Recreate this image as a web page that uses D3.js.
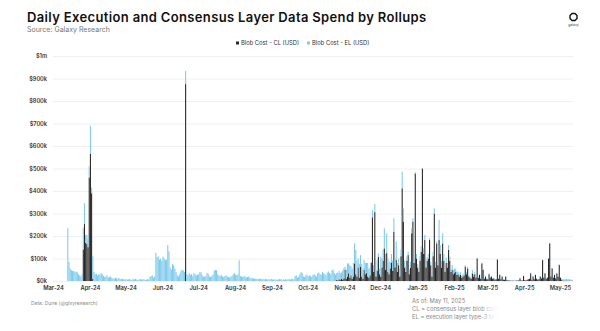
<!DOCTYPE html>
<html>
<head>
<meta charset="utf-8">
<script src="https://cdn.jsdelivr.net/npm/d3@7"></script>
<style>
  html, body { margin: 0; padding: 0; background: #fff; }
  svg { display: block; font-family: Inter, "Noto Sans", sans-serif; }
</style>
</head>
<body>
<svg id="chart" width="600" height="331"></svg>
<script>
// ---- data: daily blob spend in $k, one row per month ----
const months   = ["2024-03", "2024-04", "2024-05", "2024-06", "2024-07", "2024-08", "2024-09", "2024-10",
                  "2024-11", "2024-12", "2025-01", "2025-02", "2025-03", "2025-04", "2025-05"];
const firstDay = [13, 1, 1, 1, 1, 1, 1, 1, 1, 1, 1, 1, 1, 1, 1];

// consensus layer (blob gas)
const clCost = [
  [0, 0, 0, 0, 0, 0, 0, 0, 0, 0, 0, 0, 0, 140, 253, 170, 165, 150, 460],
  [565, 390, 10, 0, 0, 0, 0, 0, 0, 0, 0, 0, 0, 0, 0, 0, 0, 0, 0, 0, 0, 0, 0, 0, 0, 0, 0, 0, 0, 0],
  [0, 0, 0, 0, 0, 0, 0, 0, 0, 0, 0, 0, 0, 0, 0, 0, 0, 0, 0, 0, 0, 0, 0, 0, 0, 0, 0, 0, 0, 0, 0],
  [0, 0, 0, 0, 0, 0, 0, 0, 0, 0, 0, 0, 0, 0, 0, 0, 0, 0, 0, 875, 0, 0, 0, 0, 0, 0, 0, 0, 0, 0],
  [0, 0, 0, 0, 0, 0, 0, 0, 0, 0, 0, 0, 0, 0, 0, 0, 0, 0, 0, 0, 0, 0, 0, 0, 0, 0, 0, 0, 0, 0, 0],
  [0, 0, 0, 0, 0, 0, 0, 0, 0, 0, 0, 0, 0, 0, 0, 0, 0, 0, 0, 0, 0, 0, 0, 0, 0, 0, 0, 0, 0, 0, 0],
  [0, 0, 0, 0, 0, 0, 0, 0, 0, 0, 0, 0, 0, 0, 0, 0, 0, 0, 0, 0, 0, 0, 0, 0, 0, 0, 0, 0, 0, 0],
  [0, 0, 0, 0, 0, 0, 0, 0, 0, 0, 0, 0, 0, 0, 0, 0, 0, 0, 0, 0, 0, 0, 0, 0, 5, 3, 8, 4, 10, 6, 12],
  [50, 10, 20, 34, 15, 25, 10, 20, 78, 30, 20, 60, 15, 64, 20, 10, 49, 30, 35, 20, 15, 25, 80, 283, 40, 306, 20, 45, 108, 30],
  [20, 60, 90, 145, 50, 124, 40, 30, 56, 80, 45, 219, 60, 93, 40, 70, 20, 110, 412, 264, 60, 40, 90, 115, 30, 60, 212, 264, 80, 478, 100],
  [60, 41, 90, 130, 500, 120, 182, 60, 90, 100, 182, 70, 20, 110, 300, 60, 167, 70, 182, 120, 60, 167, 90, 41, 80, 60, 138, 90, 40, 49, 30],
  [35, 40, 27, 30, 20, 27, 15, 20, 25, 64, 30, 56, 20, 15, 10, 34, 20, 30, 15, 100, 15, 27, 10, 78, 49, 10, 20, 8],
  [8, 30, 15, 20, 10, 12, 6, 8, 96, 10, 27, 8, 20, 6, 5, 20, 4, 3, 2, 2, 1, 2, 1, 1, 2, 2, 3, 12, 3, 2, 22],
  [4, 3, 5, 8, 10, 34, 6, 20, 8, 27, 10, 6, 8, 20, 12, 93, 15, 34, 10, 15, 100, 167, 20, 56, 15, 27, 12, 34, 20, 71],
  [15, 4, 2, 2, 1, 2, 1, 2, 1, 1, 1]
];

// execution layer (type-3 tx gas)
const elCost = [
  [235, 85, 55, 48, 45, 45, 40, 42, 38, 30, 25, 20, 30, 95, 92, 35, 40, 40, 50],
  [125, 25, 100, 40, 30, 32, 25, 30, 28, 35, 30, 22, 18, 20, 25, 15, 18, 20, 14, 12, 10, 15, 12, 10, 14, 9, 8, 10, 7, 8],
  [8, 6, 7, 9, 5, 6, 8, 7, 10, 6, 5, 7, 9, 6, 8, 7, 5, 6, 8, 7, 18, 22, 25, 15, 20, 125, 105, 110, 95, 100, 90],
  [108, 100, 93, 95, 160, 132, 60, 50, 75, 70, 55, 40, 25, 20, 30, 45, 50, 48, 40, 58, 30, 25, 35, 28, 30, 22, 35, 30, 25, 28],
  [30, 40, 38, 25, 20, 18, 22, 35, 32, 20, 18, 22, 28, 45, 50, 48, 30, 25, 22, 28, 20, 18, 22, 25, 20, 18, 15, 20, 22, 30, 35],
  [28, 25, 30, 92, 22, 20, 18, 22, 20, 15, 18, 20, 15, 12, 14, 10, 12, 9, 10, 8, 11, 9, 8, 10, 7, 9, 8, 6, 8, 7, 9],
  [7, 6, 8, 5, 7, 6, 9, 8, 6, 7, 5, 8, 6, 7, 9, 6, 8, 10, 7, 22, 25, 15, 18, 30, 40, 35, 20, 18, 25, 28],
  [20, 25, 22, 18, 27, 30, 25, 20, 35, 38, 30, 28, 40, 35, 30, 25, 38, 42, 36, 30, 48, 50, 35, 28, 30, 34, 36, 30, 28, 40, 45],
  [14, 40, 58, 44, 55, 40, 45, 60, 89, 108, 70, 40, 60, 51, 55, 45, 44, 50, 45, 60, 40, 35, 5, 32, 30, 36, 30, 48, 15, 25],
  [88, 40, 50, 89, 70, 88, 60, 55, 30, 40, 45, 60, 45, 82, 40, 30, 35, 30, 74, 59, 30, 25, 20, 15, 20, 25, 22, 15, 20, 5, 20],
  [15, 10, 20, 25, 3, 25, 23, 20, 15, 20, 8, 15, 10, 20, 23, 25, 10, 20, 89, 40, 30, 45, 30, 10, 25, 20, 22, 20, 15, 22, 20],
  [20, 15, 14, 12, 10, 12, 8, 10, 8, 6, 10, 8, 6, 5, 5, 15, 10, 12, 8, 3, 5, 5, 4, 3, 5, 3, 4, 3],
  [3, 4, 3, 3, 2, 2, 2, 2, 2, 2, 2, 2, 2, 2, 2, 2, 2, 1, 1, 1, 1, 1, 1, 1, 1, 1, 1, 1, 1, 1, 2],
  [1, 1, 1, 1, 2, 3, 2, 2, 2, 2, 2, 1, 1, 2, 2, 2, 2, 2, 2, 2, 2, 3, 2, 2, 2, 2, 2, 2, 2, 3],
  [3, 6, 7, 6, 7, 8, 6, 7, 6, 5, 4]
];

const yTicks  = [0, 100, 200, 300, 400, 500, 600, 700, 800, 900, 1000];
const seriesNames = ["Blob Cost - CL (USD)", "Blob Cost - EL (USD)"];
const colors  = ["#262626", "#7fcaec"];

// ---- flatten to one row per day ----
const days = [];
months.forEach((m, mi) => {
  const [yr, mo] = m.split("-").map(Number);
  clCost[mi].forEach((cl, j) => {
    days.push({
      date: new Date(Date.UTC(yr, mo - 1, firstDay[mi] + j)),
      cl: cl,
      el: elCost[mi][j]
    });
  });
});

const svg = d3.select("#chart");
const plot = { left: 53, right: 573, top: 56, bottom: 281 };

const x = d3.scaleUtc()
  .domain([new Date(Date.UTC(2024, 2, 1)), new Date(Date.UTC(2025, 4, 12))])
  .range([plot.left, plot.right]);

const y = d3.scaleLinear().domain([0, 1000]).range([plot.bottom, plot.top]);

// ---- header ----
svg.append("text")
  .attr("x", 27).attr("y", 21.5)
  .style("font-size", "13px").style("font-weight", 600)
  .style("letter-spacing", "0.35px")
  .attr("fill", "#111")
  .text("Daily Execution and Consensus Layer Data Spend by Rollups");

svg.append("text")
  .attr("x", 27).attr("y", 32)
  .style("font-size", "7px")
  .attr("fill", "#777")
  .text("Source: Galaxy Research");

// logo mark
const logo = svg.append("g").attr("transform", "translate(573.5,17)");
logo.append("path")
  .attr("d", d3.range(8).map((i, k) => {
    const a = Math.PI / 8 + i * Math.PI / 4;
    return (k ? "L" : "M") + (3.8 * Math.cos(a)).toFixed(2) + "," + (3.8 * Math.sin(a)).toFixed(2);
  }).join("") + "Z")
  .attr("fill", "none").attr("stroke", "#111").attr("stroke-width", 1.4);
logo.append("text")
  .attr("y", 9).attr("text-anchor", "middle")
  .style("font-size", "3.4px").attr("fill", "#444")
  .text("galaxy");

// ---- legend ----
const legend = svg.append("g").attr("transform", "translate(236,45)");
let lx = 0;
seriesNames.forEach((name, i) => {
  const g = legend.append("g").attr("transform", `translate(${lx},0)`);
  g.append("rect").attr("x", 0).attr("y", -3.5).attr("width", 3).attr("height", 3).attr("fill", colors[i]);
  const t = g.append("text").attr("x", 5).attr("y", 0)
    .style("font-size", "5.8px").attr("fill", "#333").text(name);
  lx += 5 + t.node().getComputedTextLength() + 8;
});

// ---- axes ----
const yAxis = svg.append("g")
  .attr("transform", `translate(${plot.left},0)`)
  .call(d3.axisLeft(y)
    .tickValues(yTicks)
    .tickSize(-(plot.right - plot.left))
    .tickPadding(6)
    .tickFormat(d => d === 1000 ? "$1m" : `$${d}k`));
yAxis.select(".domain").remove();
yAxis.selectAll(".tick line").attr("stroke", "#ececec").attr("stroke-width", 0.8);
yAxis.selectAll(".tick text")
  .style("font-family", "Inter, sans-serif").style("font-size", "5.6px")
  .style("font-weight", 600).attr("fill", "#333");

const xAxis = svg.append("g")
  .attr("transform", `translate(0,${plot.bottom})`)
  .call(d3.axisBottom(x)
    .ticks(d3.utcMonth.every(1))
    .tickSize(0)
    .tickPadding(5)
    .tickFormat(d3.utcFormat("%b-%y")));
xAxis.select(".domain").remove();
xAxis.selectAll(".tick text")
  .style("font-family", "Inter, sans-serif").style("font-size", "5.8px")
  .style("font-weight", 600).attr("fill", "#333");

// ---- stacked daily bars: CL at the base, EL on top ----
const stack = d3.stack().keys(["cl", "el"]);
const layers = stack(days);
const barW = d => (x(d3.utcDay.offset(d.data.date, 1)) - x(d.data.date)) * 0.9;

svg.append("g").selectAll("g")
  .data(layers)
  .join("g")
    .attr("fill", (d, i) => colors[i])
  .selectAll("rect")
  .data(d => d)
  .join("rect")
    .attr("x", d => x(d.data.date))
    .attr("width", barW)
    .attr("y", d => y(d[1]))
    .attr("height", d => Math.max(0, y(d[0]) - y(d[1])));

// ---- footer ----
svg.append("text")
  .attr("x", 31).attr("y", 305)
  .style("font-size", "5px").attr("fill", "#888")
  .text("Data: Dune (@glxyresearch)");

const notes = ["As of: May 11, 2025",
               "CL = consensus layer blob cost",
               "EL = execution layer type-3 tx cost"];
svg.append("g").selectAll("text")
  .data(notes)
  .join("text")
    .attr("x", 412).attr("y", (d, i) => 303 + i * 7.8)
    .style("font-size", "5.8px").attr("fill", "#888")
    .text(d => d);

// soft white wash over the bottom-right corner
const defs = svg.append("defs");
defs.append("filter").attr("id", "wash").attr("x", "-50%").attr("y", "-50%")
  .attr("width", "200%").attr("height", "200%")
  .append("feGaussianBlur").attr("stdDeviation", 6);
svg.append("rect")
  .attr("x", 488).attr("y", 297).attr("width", 130).attr("height", 45)
  .attr("fill", "#fff").attr("filter", "url(#wash)");
</script>
</body>
</html>
